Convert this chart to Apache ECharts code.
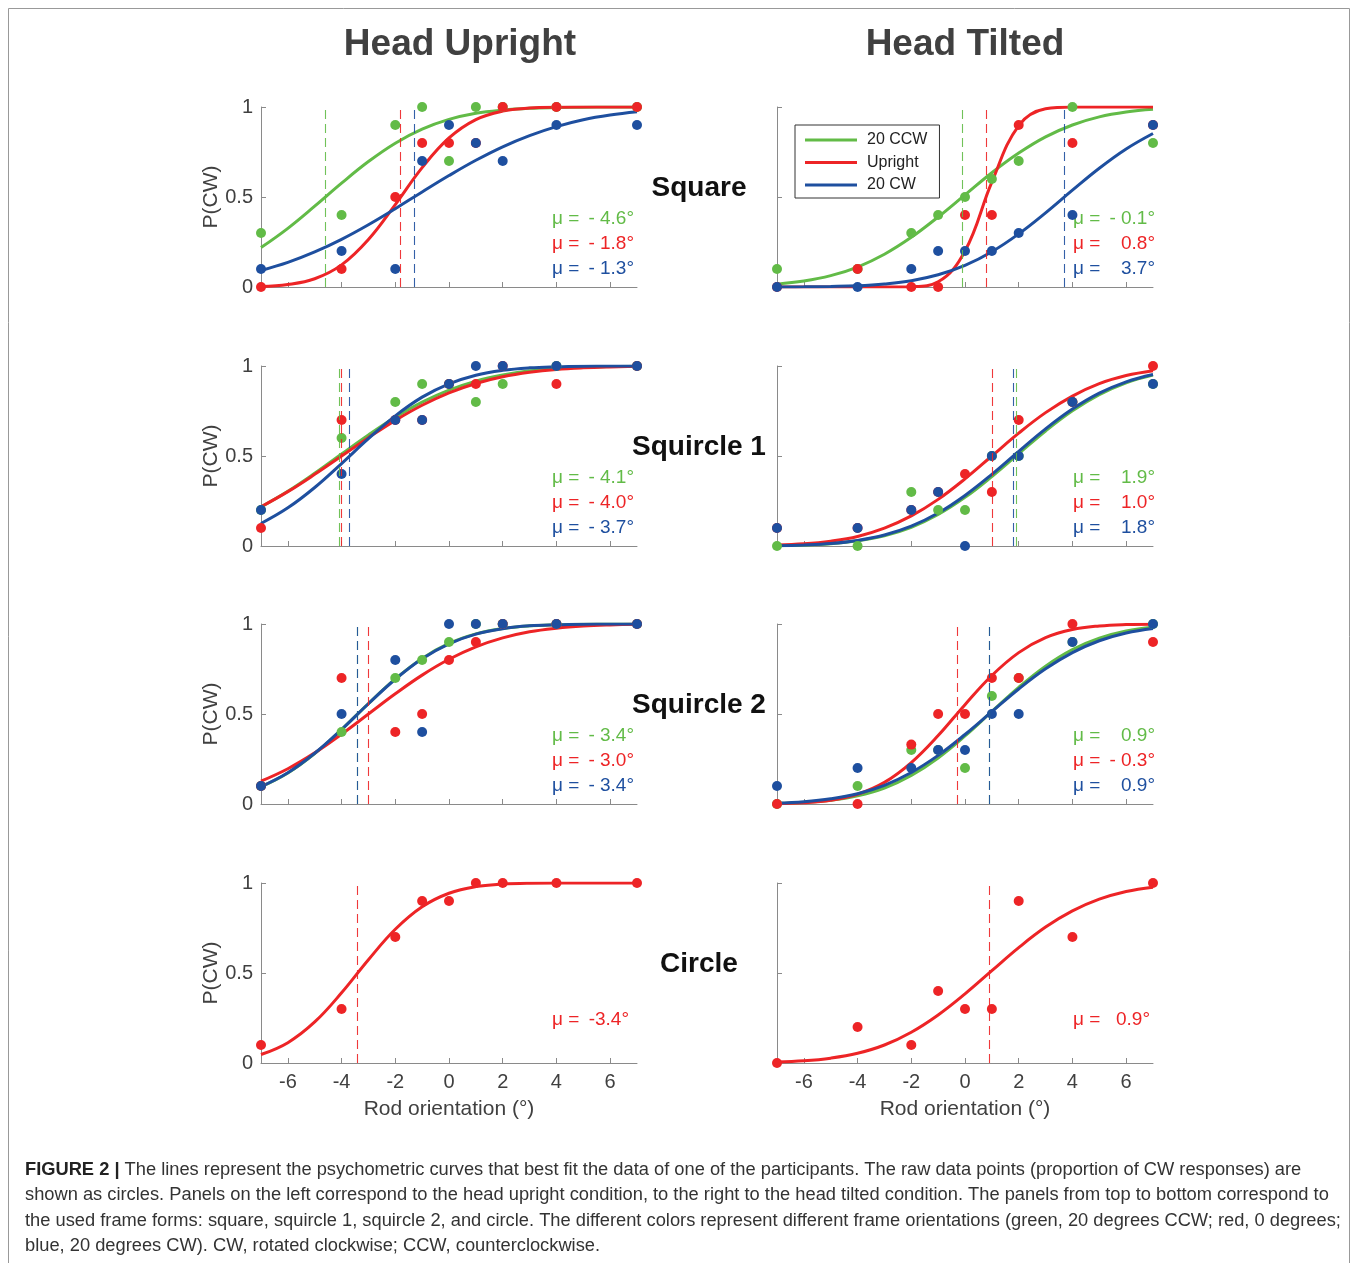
<!DOCTYPE html>
<html>
<head>
<meta charset="utf-8">
<script src="https://cdn.jsdelivr.net/npm/echarts@6/dist/echarts.min.js"></script>
<style>
html,body{margin:0;padding:0;background:#fff;}
#chart{width:1358px;height:1263px;}
</style>
</head>
<body>
<div id="chart"></div>
<script>
// ---------------- DATA ----------------
const rodX = [-7, -4, -2, -1, 0, 1, 2, 4, 7];           // tested rod orientations
const curveX = [-7,-6,-5,-4,-3,-2,-1,0,1,2,3,4,5,6,7];  // sample points of fitted curves
const xTicks = [-6, -4, -2, 0, 2, 4, 6];
const yTicks = [0, 0.5, 1];
const conditions = ['20 CCW', 'Upright', '20 CW'];
const columnTitles = ['Head Upright', 'Head Tilted'];
const frameNames = ['Square', 'Squircle 1', 'Squircle 2', 'Circle'];

// raw data points (proportion CW) : [CCW, Upright, CW]
const ptsUpSquare = [
  [0.3,0.4,0.9,1.0,0.7,1.0,1.0,1.0,1.0],
  [0.0,0.1,0.5,0.8,0.8,0.8,1.0,1.0,1.0],
  [0.1,0.2,0.1,0.7,0.9,0.8,0.7,0.9,0.9]];
const ptsTiltSquare = [
  [0.1,0.1,0.3,0.4,0.5,0.6,0.7,1.0,0.8],
  [0.0,0.1,0.0,0.0,0.4,0.4,0.9,0.8,0.9],
  [0.0,0.0,0.1,0.2,0.2,0.2,0.3,0.4,0.9]];
const ptsUpSq1 = [
  [0.2,0.6,0.8,0.9,0.9,0.8,0.9,1.0,1.0],
  [0.1,0.7,0.7,0.7,0.9,0.9,1.0,0.9,1.0],
  [0.2,0.4,0.7,0.7,0.9,1.0,1.0,1.0,1.0]];
const ptsTiltSq1 = [
  [0.0,0.0,0.3,0.2,0.2,0.5,0.5,0.8,0.9],
  [0.1,0.1,0.2,0.3,0.4,0.3,0.7,0.8,1.0],
  [0.1,0.1,0.2,0.3,0.0,0.5,0.5,0.8,0.9]];
const ptsUpSq2 = [
  [0.1,0.4,0.7,0.8,0.9,1.0,1.0,1.0,1.0],
  [0.1,0.7,0.4,0.5,0.8,0.9,1.0,1.0,1.0],
  [0.1,0.5,0.8,0.4,1.0,1.0,1.0,1.0,1.0]];
const ptsTiltSq2 = [
  [0.0,0.1,0.3,0.3,0.2,0.6,0.7,0.9,1.0],
  [0.0,0.0,0.33,0.5,0.5,0.7,0.7,1.0,0.9],
  [0.1,0.2,0.2,0.3,0.3,0.5,0.5,0.9,1.0]];
const ptsUpCircle = [null, [0.1,0.3,0.7,0.9,0.9,1.0,1.0,1.0,1.0], null];
const ptsTiltCircle = [null, [0.0,0.2,0.1,0.4,0.3,0.3,0.9,0.7,1.0], null];

// fitted psychometric curves read at curveX
const fitUpSquare = [
  [0.219,0.326,0.449,0.577,0.697,0.799,0.877,0.931,0.965,0.983,0.993,0.997,0.999,1.0,1.0],
  [0.003,0.014,0.046,0.123,0.264,0.458,0.663,0.828,0.930,0.977,0.994,0.999,1.0,1.0,1.0],
  [0.092,0.137,0.195,0.265,0.346,0.435,0.528,0.619,0.704,0.779,0.841,0.891,0.929,0.955,0.973]];
const fitTiltSquare = [
  [0.016,0.033,0.063,0.111,0.182,0.276,0.389,0.512,0.635,0.744,0.834,0.900,0.945,0.972,0.987],
  [0.0,0.0,0.0,0.0,0.0,0.002,0.029,0.200,0.583,0.897,0.990,1.0,1.0,1.0,1.0],
  [0.0,0.001,0.003,0.007,0.017,0.035,0.068,0.120,0.196,0.295,0.412,0.538,0.660,0.767,0.853]];
const fitUpSq1 = [
  [0.217,0.304,0.404,0.511,0.617,0.715,0.799,0.866,0.916,0.950,0.973,0.986,0.993,0.997,0.999],
  [0.218,0.302,0.398,0.5,0.602,0.698,0.782,0.851,0.903,0.940,0.965,0.981,0.990,0.995,0.998],
  [0.125,0.212,0.325,0.458,0.596,0.723,0.827,0.901,0.949,0.976,0.990,0.996,0.999,1.0,1.0]];
const fitTiltSq1 = [
  [0.002,0.005,0.013,0.029,0.057,0.104,0.175,0.270,0.386,0.513,0.639,0.751,0.841,0.907,0.950],
  [0.005,0.012,0.027,0.053,0.099,0.167,0.259,0.373,0.5,0.627,0.741,0.833,0.902,0.947,0.974],
  [0.002,0.006,0.014,0.031,0.061,0.110,0.183,0.281,0.398,0.526,0.651,0.761,0.849,0.912,0.953]];
const fitUpSq2 = [
  [0.095,0.172,0.280,0.414,0.558,0.695,0.809,0.892,0.945,0.975,0.990,0.996,0.999,1.0,1.0],
  [0.127,0.196,0.284,0.388,0.5,0.612,0.716,0.804,0.873,0.923,0.957,0.977,0.989,0.995,0.998],
  [0.097,0.174,0.282,0.414,0.557,0.693,0.807,0.890,0.944,0.974,0.990,0.996,0.999,1.0,1.0]];
const fitTiltSq2 = [
  [0.003,0.009,0.021,0.046,0.089,0.159,0.256,0.378,0.514,0.648,0.766,0.858,0.921,0.961,0.982],
  [0.002,0.007,0.021,0.054,0.120,0.230,0.380,0.552,0.714,0.841,0.924,0.969,0.989,0.997,0.999],
  [0.005,0.013,0.029,0.057,0.104,0.175,0.270,0.386,0.513,0.639,0.751,0.841,0.907,0.950,0.975]];
const fitUpCircle = [null, [0.047,0.113,0.228,0.390,0.574,0.743,0.868,0.943,0.980,0.994,0.999,1.0,1.0,1.0,1.0], null];
const fitTiltCircle = [null, [0.005,0.012,0.027,0.054,0.100,0.171,0.267,0.384,0.513,0.641,0.755,0.845,0.910,0.953,0.977], null];

// fitted means (deg)
const muUpSquare = [-4.6, -1.8, -1.3];
const muTiltSquare = [-0.1, 0.8, 3.7];
const muUpSq1 = [-4.1, -4.0, -3.7];
const muTiltSq1 = [1.9, 1.0, 1.8];
const muUpSq2 = [-3.4, -3.0, -3.4];
const muTiltSq2 = [0.9, -0.3, 0.9];
const muUpCircle = [null, -3.4, null];
const muTiltCircle = [null, 0.9, null];

const captionLines = [
  'The lines represent the psychometric curves that best fit the data of one of the participants. The raw data points (proportion of CW responses) are',
  'shown as circles. Panels on the left correspond to the head upright condition, to the right to the head tilted condition. The panels from top to bottom correspond to',
  'the used frame forms: square, squircle 1, squircle 2, and circle. The different colors represent different frame orientations (green, 20 degrees CCW; red, 0 degrees;',
  'blue, 20 degrees CW). CW, rotated clockwise; CCW, counterclockwise.'
];

// ---------------- STYLE / LAYOUT ----------------
const FONT = '"Liberation Sans", Arial, Helvetica, sans-serif';
const COLORS = ['#62bb47', '#ed2426', '#1e4f9f'];
const AXIS = '#8a8a8a';
const LABEL = '#404040';
const colLeft = [261, 777];
const rowTop = [107, 366, 624, 883];
const GW = 376, GH = 180;

const panels = [
  {c:0, r:0, pts:ptsUpSquare,   fit:fitUpSquare,   mu:muUpSquare},
  {c:1, r:0, pts:ptsTiltSquare, fit:fitTiltSquare, mu:muTiltSquare},
  {c:0, r:1, pts:ptsUpSq1,      fit:fitUpSq1,      mu:muUpSq1},
  {c:1, r:1, pts:ptsTiltSq1,    fit:fitTiltSq1,    mu:muTiltSq1},
  {c:0, r:2, pts:ptsUpSq2,      fit:fitUpSq2,      mu:muUpSq2},
  {c:1, r:2, pts:ptsTiltSq2,    fit:fitTiltSq2,    mu:muTiltSq2},
  {c:0, r:3, pts:ptsUpCircle,   fit:fitUpCircle,   mu:muUpCircle, circle:true},
  {c:1, r:3, pts:ptsTiltCircle, fit:fitTiltCircle, mu:muTiltCircle, circle:true}
];

const grid = [], xAxis = [], yAxis = [], series = [], graphic = [];

panels.forEach((p, i) => {
  const left = colLeft[p.c], top = rowTop[p.r];
  grid.push({left: left, top: top, width: GW, height: GH});
  const bottomRow = p.r === 3;
  xAxis.push({
    type: 'value', gridIndex: i, min: -7, max: 7,
    axisLine: {show: true, onZero: false, lineStyle: {color: AXIS, width: 1}},
    axisTick: {show: true, inside: true, length: 5, customValues: xTicks, lineStyle: {color: AXIS}},
    axisLabel: {show: bottomRow, customValues: xTicks, fontSize: 20, color: LABEL, fontFamily: FONT, margin: 9},
    splitLine: {show: false},
    name: bottomRow ? 'Rod orientation (°)' : '',
    nameLocation: 'middle', nameGap: 36,
    nameTextStyle: {fontSize: 21, color: LABEL, fontFamily: FONT}
  });
  yAxis.push({
    type: 'value', gridIndex: i, min: 0, max: 1, interval: 0.5,
    axisLine: {show: true, onZero: false, lineStyle: {color: AXIS, width: 1}},
    axisTick: {show: true, inside: true, length: 5, customValues: yTicks, lineStyle: {color: AXIS}},
    axisLabel: {show: p.c === 0, customValues: yTicks, fontSize: 20, color: LABEL, fontFamily: FONT, margin: 8},
    splitLine: {show: false},
    name: p.c === 0 ? 'P(CW)' : '',
    nameLocation: 'middle', nameGap: 38,
    nameTextStyle: {fontSize: 21, color: LABEL, fontFamily: FONT}
  });

  // curves with dashed mean lines
  for (let k = 0; k < 3; k++) {
    if (!p.fit[k]) continue;
    series.push({
      type: 'line', name: conditions[k], xAxisIndex: i, yAxisIndex: i,
      data: curveX.map((x, j) => [x, p.fit[k][j]]),
      smooth: 0.4, symbol: 'none', silent: true,
      lineStyle: {width: 3, color: COLORS[k]}, itemStyle: {color: COLORS[k]},
      z: 2, animation: false,
      markLine: {
        silent: true, symbol: ['none', 'none'], animation: false,
        label: {show: false},
        lineStyle: {type: [9, 5], width: 1.1, color: COLORS[k], opacity: 0.9},
        data: [{xAxis: p.mu[k]}]
      }
    });
  }
  // raw points
  for (let k = 0; k < 3; k++) {
    if (!p.pts[k]) continue;
    series.push({
      type: 'scatter', name: conditions[k] + ' data', xAxisIndex: i, yAxisIndex: i,
      data: rodX.map((x, j) => [x, p.pts[k][j]]),
      symbol: 'circle', symbolSize: 10, itemStyle: {color: COLORS[k], opacity: 1},
      z: 3, animation: false, silent: true
    });
  }

  // mu annotations
  const muX = p.c === 0 ? 552 : 1073;
  const muRight = p.c === 0 ? 634 : 1155;
  const lineOff = p.circle ? [137] : [112, 137, 162];
  let li = 0;
  for (let k = 0; k < 3; k++) {
    if (p.mu[k] === null) continue;
    const v = p.mu[k];
    let valTxt;
    if (p.circle) valTxt = (v < 0 ? '-' : '') + Math.abs(v).toFixed(1) + '°';
    else valTxt = (v < 0 ? '- ' : '') + Math.abs(v).toFixed(1) + '°';
    const y = top + lineOff[li++];
    graphic.push({type: 'text', x: muX, y: y, silent: true,
      style: {text: 'μ =', fontSize: 19, fontFamily: FONT, fill: COLORS[k], align: 'left', verticalAlign: 'middle'}});
    graphic.push({type: 'text', x: p.circle ? muRight - 5 : muRight, y: y, silent: true,
      style: {text: valTxt, fontSize: 19, fontFamily: FONT, fill: COLORS[k], align: 'right', verticalAlign: 'middle'}});
  }
});

// frame-form labels
frameNames.forEach((n, r) => {
  graphic.push({type: 'text', x: 699, y: rowTop[r] + 81, silent: true,
    style: {text: n, fontSize: 28, fontWeight: 'bold', fontFamily: FONT, fill: '#111', align: 'center', verticalAlign: 'middle'}});
});
// column titles
columnTitles.forEach((t, c) => {
  graphic.push({type: 'text', x: c === 0 ? 460 : 965, y: 45, silent: true,
    style: {text: t, fontSize: 37, fontWeight: 'bold', fontFamily: FONT, fill: '#404040', align: 'center', verticalAlign: 'middle'}});
});
// caption
captionLines.forEach((t, i) => {
  graphic.push({type: 'text', x: 25, y: 1170 + i * 25.3, silent: true,
    style: {
      text: i === 0 ? '{b|FIGURE 2 |} ' + t : t,
      rich: {b: {fontWeight: 'bold', fontSize: 18.3, fontFamily: FONT, fill: '#222'}},
      fontSize: 18.3, fontFamily: FONT, fill: '#333', align: 'left', verticalAlign: 'middle'
    }});
});
// outer border
graphic.push({type: 'rect', silent: true, z: -1,
  shape: {x: 8.5, y: 8.5, width: 1341, height: 1290},
  style: {fill: 'none', stroke: '#999', lineWidth: 1}});

const chart = echarts.init(document.getElementById('chart'), null, {renderer: 'canvas', width: 1358, height: 1263});
chart.setOption({
  backgroundColor: '#fff',
  animation: false,
  textStyle: {fontFamily: FONT},
  grid: grid, xAxis: xAxis, yAxis: yAxis, series: series,
  legend: {
    show: true, selectedMode: false, orient: 'vertical',
    left: 795, top: 125,
    data: conditions.map(n => ({name: n, icon: 'rect'})),
    itemWidth: 52, itemHeight: 3, itemGap: 6.5,
    padding: [7, 12, 5, 10],
    borderColor: '#333', borderWidth: 1, backgroundColor: '#fff',
    textStyle: {fontSize: 16, color: '#222', fontFamily: FONT, lineHeight: 16, padding: [0, 0, 0, 5]}
  },
  graphic: graphic
});
</script>
</body>
</html>
